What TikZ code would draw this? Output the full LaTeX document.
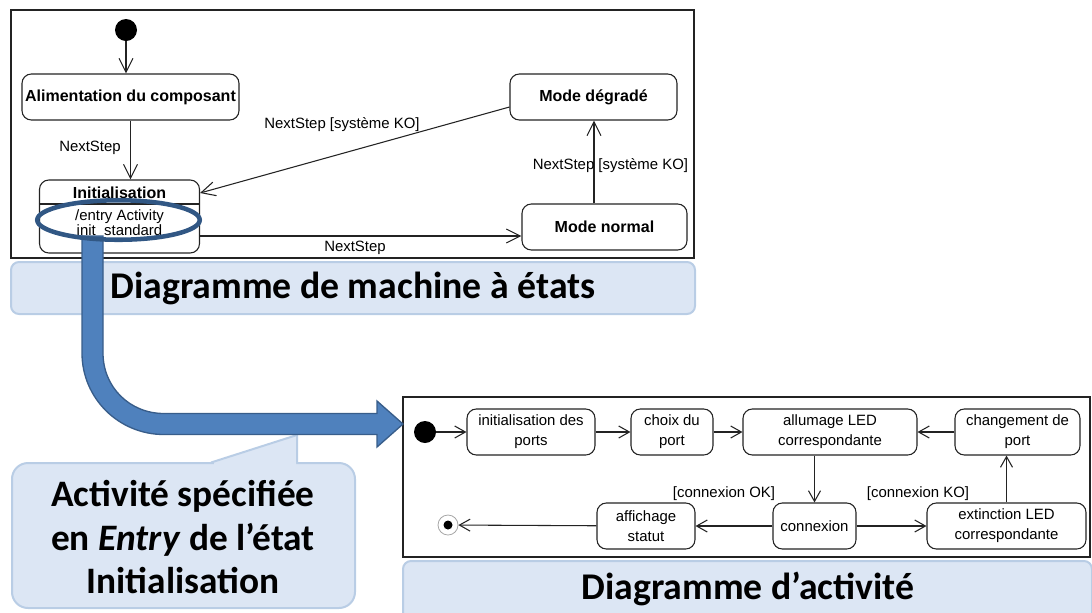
\documentclass[tikz,border=0pt]{standalone}
\usepackage{fontspec}
\setmainfont{Liberation Sans}
\newfontfamily\calib{Carlito}
\usetikzlibrary{arrows.meta,calc,shapes.geometric}
\definecolor{tfill}{RGB}{220,230,244}
\definecolor{tdraw}{RGB}{185,205,229}
\definecolor{afill}{RGB}{79,129,189}
\definecolor{adraw}{RGB}{56,93,138}
\definecolor{edraw}{RGB}{49,87,132}
\definecolor{uline}{RGB}{35,35,35}
\begin{document}
\begin{tikzpicture}[x=0.75pt,y=-0.75pt,
 sz/.style 2 args={minimum width=#1*0.75pt, minimum height=#2*0.75pt},
 st/.style={draw=uline, line width=0.8pt, rounded corners=7pt, inner sep=0pt, align=center, font=\fontsize{12}{15}\selectfont\bfseries},
 act/.style={draw=uline, line width=0.8pt, rounded corners=7pt, inner sep=0pt, align=center, font=\fontsize{11.2}{15}\selectfont},
 lbl/.style={inner sep=0pt, font=\fontsize{11.2}{13}\selectfont},
 tr/.style={draw=uline, line width=0.8pt, -{Straight Barb[length=10.5pt,width=10.5pt]}},
 atr/.style={draw=uline, line width=0.8pt, -{Straight Barb[length=8pt,width=9pt]}},
 frame/.style={draw=uline, line width=0.8pt},
 titlebox/.style={fill=tfill, draw=tdraw, line width=1.5pt, rounded corners=6pt, inner sep=0pt},
 ttl/.style={font=\calib\bfseries\fontsize{28.3}{33}\selectfont, inner sep=0pt},
 startnode/.style={circle, fill=black, inner sep=0pt},
]
\useasboundingbox (0,0) rectangle (1092,612);
\clip (0,0) rectangle (1092,612);

% ---------- state machine ----------
\draw[frame] (11,10) rectangle (694,258);
\node[startnode, sz={22}{22}] (ini) at (126,30) {};
\node[st, sz={217}{46}] (alim) at (130.5,97) {Alimentation du composant};
\node[st, sz={160}{73}] (init) at (119.5,216.5) {};
\node[inner sep=0pt, font=\fontsize{12}{15}\selectfont\bfseries] (inittitle) at (119.5,193) {Initialisation};
\draw[uline, line width=0.8pt] (init.west |- 0,204) -- (init.east |- 0,204);
\node[inner sep=0pt, align=center, font=\fontsize{11.2}{11.25}\selectfont] (initbody) at (119.5,224.5) {/entry Activity\\init\_standard};
\node[st, sz={167}{46}] (degr) at (593.5,97) {Mode dégradé};
\node[st, sz={165}{46}] (norm) at (604.5,227) {Mode normal};

\draw[tr] (ini) -- (ini |- alim.north);
\draw[tr] (alim.south) -- (alim.south |- init.north);
\draw[tr] ($(degr.west)+(0,10)$) -- ($(init.east)+(0,-23.5)$);
\draw[tr] ($(init.east)+(0,19.5)$) -- ($(norm.west)+(0,9)$);
\draw[tr] ($(norm.north)+(-10.5,0)$) -- ($(degr.south)+(0.5,0)$);

\node[lbl] (l1) at (90,148) {NextStep};
\node[lbl] (l2) at (342,125) {NextStep [système KO]};
\node[lbl] (l3) at (610.5,166) {NextStep [système KO]};
\node[lbl] (l4) at (355,248) {NextStep};

% ---------- activity ----------
\draw[frame] (403,397) rectangle (1090,557);
\node[startnode, sz={22}{22}] (ai) at (425,432) {};
\node[act, sz={128}{46}] (a1) at (531,432) {initialisation des\\ports};
\node[act, sz={82}{46}] (a2) at (672,432) {choix du\\port};
\node[act, sz={174}{46}] (a3) at (830,432) {allumage LED\\correspondante};
\node[act, sz={125}{46}] (a4) at (1017.5,432) {changement de\\port};
\node[act, sz={83}{46}] (a5) at (814.5,526) {connexion};
\node[act, sz={159}{46}] (a6) at (1006.5,526) {extinction LED\\correspondante};
\node[act, sz={98}{46}] (a7) at (646,526) {affichage\\statut};
\node[circle, draw=gray!70, line width=0.6pt, inner sep=0pt, sz={20}{20}] (af) at (448,525) {};
\node[startnode, sz={9}{9}] (afd) at (af) {};

\draw[atr] (ai) -- (a1);
\draw[atr] (a1) -- (a2);
\draw[atr] (a2) -- (a3);
\draw[atr] (a4) -- (a3);
\draw[atr] (a3.south -| a5) -- (a5);
\draw[atr] (a5) -- (a6);
\draw[atr] (a6.north) -- (a6.north |- a4.south);
\draw[atr] (a5) -- (a7);
\draw[atr] (a7) -- (af);
\node[lbl] (k1) at (724,494) {[connexion OK]};
\node[lbl] (k2) at (918,494) {[connexion KO]};

% ---------- titles ----------
\node[titlebox, sz={684}{52}] (tb1) at (353,288) {};
\node[ttl] (t1) at (353,288) {Diagramme de machine à états};
\node[titlebox, sz={689}{60}] (tb2) at (747.5,591) {};
\node[ttl] (t2) at (748,589) {Diagramme d’activité};

% ---------- callout ----------
\node[fill=tfill, draw=tdraw, line width=1.5pt, rounded corners=12pt, inner sep=0pt, sz={343}{145}] (cb) at (183.5,535.5) {};
\fill[tfill] (214,465) -- (214,461.4) -- (297,435) -- (296,465) -- cycle;
\draw[tdraw, line width=1.5pt] (211,462.5) -- (297,435) -- (297,462.5);
\node[align=center, inner sep=0pt, font=\calib\bfseries\fontsize{28}{32.3}\selectfont] (ct) at (183,537) {Activité spécifiée\\en \textit{Entry} de l’état\\Initialisation};

% ---------- big arrow ----------
\draw[fill=afill, draw=adraw, line width=1pt, line join=miter]
 (82,236) -- (82,353) .. controls (82,398.3) and (118.7,434.5) .. (164,434.5)
 -- (377,434.5) -- (377,447) -- (403,424) -- (377,401) -- (377,413.5) -- (164,413.5)
 .. controls (129.8,413.5) and (103,387.2) .. (103,353) -- (103,236) -- cycle;

% ---------- highlight ellipse ----------
\node[ellipse, draw=edraw, line width=3.4pt, inner sep=0pt, sz={162.5}{39.5}] (hl) at (118.5,220) {};
\end{tikzpicture}
\end{document}
